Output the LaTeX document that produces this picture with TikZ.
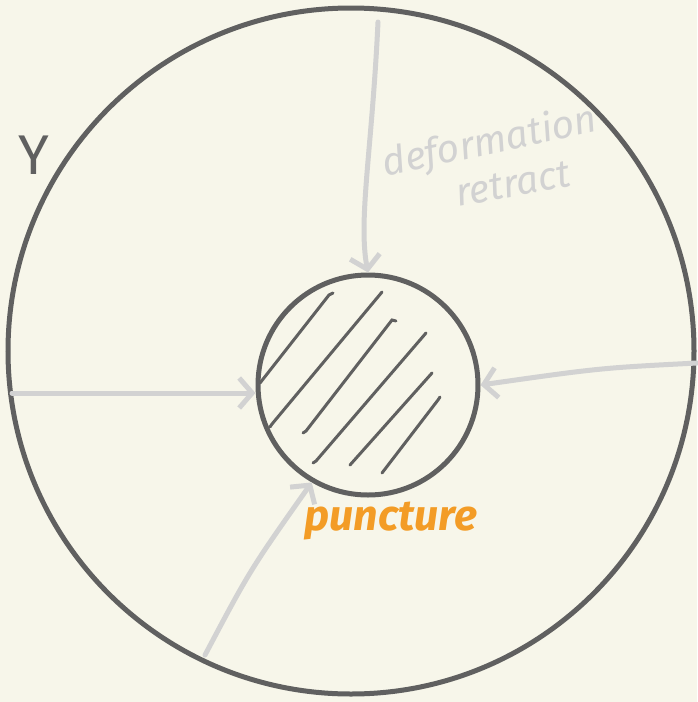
\documentclass[tikz,border=0pt]{standalone}
\usepackage{fontspec}
\setmainfont{Fira Sans}
\usetikzlibrary{arrows.meta}
\definecolor{bg}{HTML}{F7F6EA}
\definecolor{ink}{HTML}{606060}
\definecolor{pale}{HTML}{D2D2D2}
\definecolor{orange}{HTML}{F39C26}
\tikzset{
  ring/.style={circle, draw=ink, line width=5pt, inner sep=0pt},
  hatch/.style={draw=ink, line width=3pt, line cap=round},
  retractarrow/.style={draw=pale, line width=5pt, line cap=round, -{Straight Barb[length=13pt,width=30pt,line width=5pt]}},
  paletext/.style={text=pale, font=\itshape\fontsize{39}{39}\selectfont, inner sep=0pt},
}
\begin{document}
\begin{tikzpicture}[x=1pt,y=-1pt]
\fill[bg] (0,0) rectangle (697,702);
\useasboundingbox (0,0) rectangle (697,702);
\node[ring, minimum size=686pt] (outer) at (351,351) {};
\node[ring, minimum size=220pt] (inner) at (368,385) {};
% hatching
\draw[hatch] (260,383) -- (329,295) -- (333,293);
\draw[hatch] (270,427) -- (272,424) -- (382,292);
\draw[hatch] (303,433) -- (306,431) -- (392,320) -- (396,321);
\draw[hatch] (313,463) -- (316,461) -- (426,333);
\draw[hatch] (350,465) -- (432,373);
\draw[hatch] (382,473) -- (438,400) -- (440,397);
% arrows
\coordinate (ptop) at (378,22);
\coordinate (pleft) at (12,393);
\coordinate (pright) at (697,363);
\coordinate (pbottom) at (205,655);
\draw[retractarrow] (ptop) .. controls (372,150) and (358,220) .. (inner.north);
\draw[retractarrow] (pleft) -- (inner.west |- pleft);
\draw[retractarrow] (pright) .. controls (600,368) .. (inner.east);
\draw[retractarrow] (pbottom) .. controls (250,570) .. (inner.-120);
% labels
\node[paletext, rotate=12] (deform) at (490,143) {deformation};
\node[paletext, rotate=10] (retract) at (513,184) {retract};
\node[text=orange, font=\bfseries\itshape\fontsize{43}{43}\selectfont, inner sep=0pt] (punct) at (391,521) {puncture};
\node[text=ink, font=\fontsize{56}{56}\selectfont, inner sep=0pt] (Y) at (34,155) {Y};
\end{tikzpicture}
\end{document}
